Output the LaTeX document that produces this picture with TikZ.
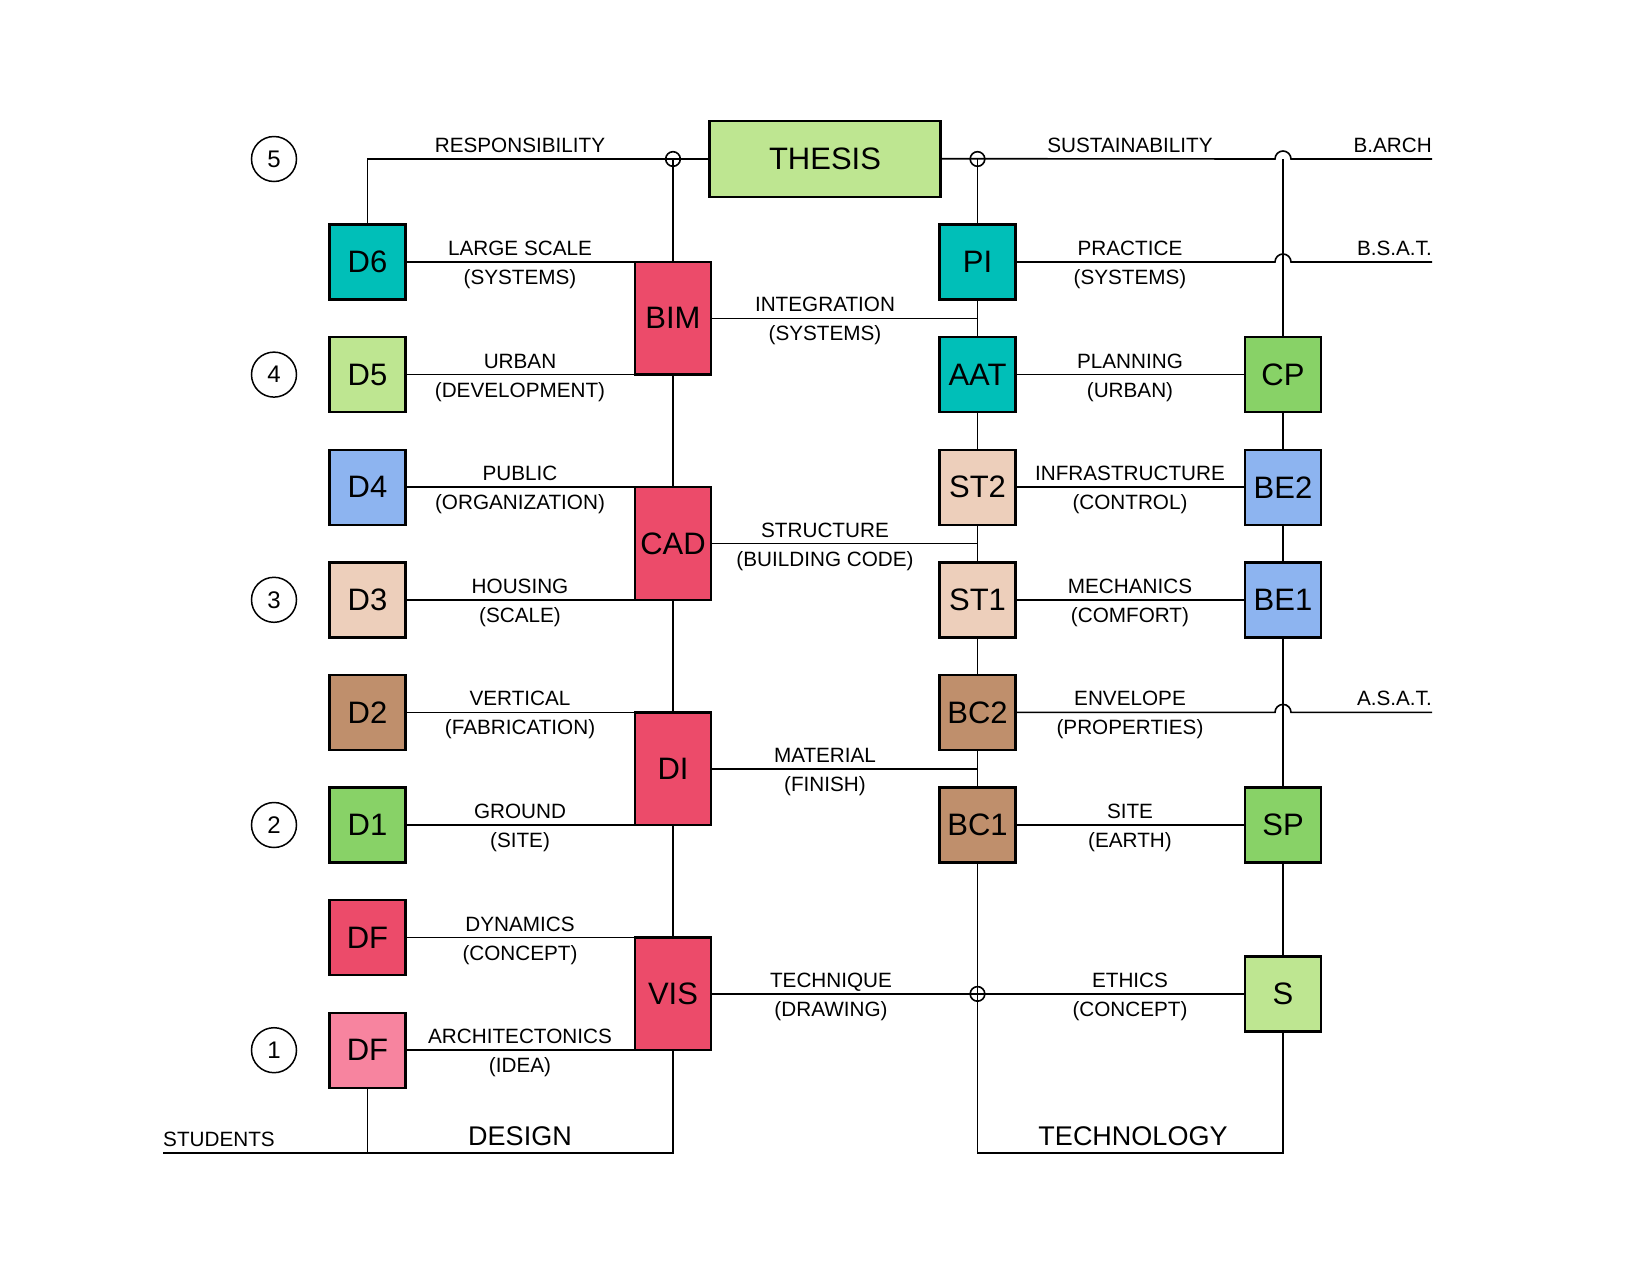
\documentclass[tikz,border=0pt]{standalone}
\usepackage{fontspec}
\setmainfont{Liberation Sans}
\definecolor{teal1}{HTML}{00BFB8}
\definecolor{lgreen}{HTML}{BEE691}
\definecolor{mgreen}{HTML}{88D267}
\definecolor{blue1}{HTML}{8DB4F0}
\definecolor{beige1}{HTML}{EDCFBB}
\definecolor{brown1}{HTML}{BF8F6C}
\definecolor{red1}{HTML}{EC4B6A}
\definecolor{pink1}{HTML}{F7849F}
\newcommand{\twolabel}[5]{%
  \node[lbl,anchor=base] (#1a) at (#2,#3-6.5) {#4};
  \node[lbl,anchor=base] (#1b) at (#2,#3+22.5) {#5};}
\begin{document}
\begin{tikzpicture}[x=1pt,y=-1pt,
  box/.style={draw=black, line width=2.4pt, minimum width=76pt, minimum height=75pt, inner sep=0pt, font=\fontsize{31}{31}\selectfont},
  tall/.style={box, minimum height=112.6pt},
  lbl/.style={inner sep=0pt, font=\fontsize{20.7}{24}\selectfont},
  big/.style={inner sep=0pt, font=\fontsize{27}{30}\selectfont},
  numc/.style={circle, draw, line width=1.5pt, minimum size=45pt, inner sep=0pt, font=\fontsize{24}{24}\selectfont},
  ln/.style={line width=1.6pt},
  thk/.style={line width=2.4pt}]
\useasboundingbox (0,0) rectangle (1650,1275);
% left column
\node[box,fill=teal1] (D6) at (367.5,262) {D6};
\node[box,fill=lgreen] (D5) at (367.5,374.6) {D5};
\node[box,fill=blue1] (D4) at (367.5,487.2) {D4};
\node[box,fill=beige1] (D3) at (367.5,599.8) {D3};
\node[box,fill=brown1] (D2) at (367.5,712.4) {D2};
\node[box,fill=mgreen] (D1) at (367.5,825) {D1};
\node[box,fill=red1] (DFa) at (367.5,937.6) {DF};
\node[box,fill=pink1] (DFb) at (367.5,1050.2) {DF};
% red column
\node[tall,fill=red1] (BIM) at (673,318.3) {BIM};
\node[tall,fill=red1] (CAD) at (673,543.5) {CAD};
\node[tall,fill=red1] (DI) at (673,768.7) {DI};
\node[tall,fill=red1] (VIS) at (673,993.9) {VIS};
\node[box,fill=lgreen,minimum width=231pt,minimum height=76pt] (TH) at (825,158.7) {THESIS};
% right column 1
\node[box,fill=teal1] (PI) at (977.5,262) {PI};
\node[box,fill=teal1] (AAT) at (977.5,374.6) {AAT};
\node[box,fill=beige1] (ST2) at (977.5,487.2) {ST2};
\node[box,fill=beige1] (ST1) at (977.5,599.8) {ST1};
\node[box,fill=brown1] (BC2) at (977.5,712.4) {BC2};
\node[box,fill=brown1] (BC1) at (977.5,825) {BC1};
% right column 2
\node[box,fill=mgreen] (CP) at (1283,374.6) {CP};
\node[box,fill=blue1] (BE2) at (1283,487.2) {BE2};
\node[box,fill=blue1] (BE1) at (1283,599.8) {BE1};
\node[box,fill=mgreen] (SP) at (1283,825) {SP};
\node[box,fill=lgreen] (S) at (1283,993.9) {S};
% number circles
\node[numc] (n5) at (274,159) {5};
\node[numc] (n4) at (274,374.6) {4};
\node[numc] (n3) at (274,599.8) {3};
\node[numc] (n2) at (274,825) {2};
\node[numc] (n1) at (274,1050.2) {1};
% coordinates
\coordinate (jL) at (673,159);
\coordinate (jR) at (977.5,159);
\coordinate (jB) at (977.5,993.9);
\coordinate (vtop) at (1283,159);
\coordinate (eA) at (1432,159);
\coordinate (eB) at (1432,262);
\coordinate (eC) at (1432,712.4);
\coordinate (bl) at (163,1153);
\coordinate (bDF) at (367.5,1153);
\coordinate (bV) at (673,1153);
\coordinate (bT) at (977.5,1153);
\coordinate (bS) at (1283,1153);
% top line
\draw[ln] (D6.north) |- (TH.west);
\draw[ln] (BIM.north) -- (jL);
\draw[ln] (jL) circle[radius=7.3];
\draw[ln] (TH.east) -- (1275,159) arc[start angle=180,end angle=360,radius=8] -- (eA);
\draw[ln] (jR) -- (PI.north);
\draw[ln] (jR) circle[radius=7.3];
\draw[ln] (vtop) -- (CP.north);
% left rows
\draw[ln] (D6.east) -- (D6.east -| BIM.west);
\draw[ln] (D5.east) -- (D5.east -| BIM.west);
\draw[ln] (D4.east) -- (D4.east -| CAD.west);
\draw[ln] (D3.east) -- (D3.east -| CAD.west);
\draw[ln] (D2.east) -- (D2.east -| DI.west);
\draw[ln] (D1.east) -- (D1.east -| DI.west);
\draw[ln] (DFa.east) -- (DFa.east -| VIS.west);
\draw[ln] (DFb.east) -- (DFb.east -| VIS.west);
% red column verticals
\draw[thk] (BIM.south) -- (CAD.north);
\draw[thk] (CAD.south) -- (DI.north);
\draw[thk] (DI.south) -- (VIS.north);
\draw[ln] (VIS.south) -- (bV) -- (bl);
\draw[ln] (DFb.south) -- (bDF);
% middle links
\draw[ln] (BIM.east) -- (BIM.east -| PI.south);
\draw[ln] (CAD.east) -- (CAD.east -| PI.south);
\draw[thk] (DI.east) -- (DI.east -| PI.south);
\draw[ln] (VIS.east) -- (S.west);
\draw[ln] (jB) circle[radius=7.3];
% column 1 verticals
\draw[ln] (PI.south) -- (AAT.north);
\draw[ln] (AAT.south) -- (ST2.north);
\draw[ln] (ST2.south) -- (ST1.north);
\draw[ln] (ST1.south) -- (BC2.north);
\draw[ln] (BC2.south) -- (BC1.north);
\draw[ln] (BC1.south) -- (bT) -- (bS) -- (S.south);
% column 2 verticals
\draw[thk] (CP.south) -- (BE2.north);
\draw[thk] (BE2.south) -- (BE1.north);
\draw[ln] (BE1.south) -- (SP.north);
\draw[ln] (SP.south) -- (S.north);
% right rows
\draw[ln] (PI.east) -- (1275,262) arc[start angle=180,end angle=360,radius=8] -- (eB);
\draw[ln] (AAT.east) -- (CP.west);
\draw[ln] (ST2.east) -- (BE2.west);
\draw[ln] (ST1.east) -- (BE1.west);
\draw[ln] (BC2.east) -- (1275,712.4) arc[start angle=180,end angle=360,radius=8] -- (eC);
\draw[thk] (BC1.east) -- (SP.west);
% labels left
\twolabel{L6}{520}{262}{LARGE SCALE}{(SYSTEMS)}
\twolabel{L5}{520}{374.6}{URBAN}{(DEVELOPMENT)}
\twolabel{L4}{520}{487.2}{PUBLIC}{(ORGANIZATION)}
\twolabel{L3}{520}{599.8}{HOUSING}{(SCALE)}
\twolabel{L2}{520}{712.4}{VERTICAL}{(FABRICATION)}
\twolabel{L1}{520}{825}{GROUND}{(SITE)}
\twolabel{LFa}{520}{937.6}{DYNAMICS}{(CONCEPT)}
\twolabel{LFb}{520}{1050.2}{ARCHITECTONICS}{(IDEA)}
% labels middle
\twolabel{M1}{825}{318.3}{INTEGRATION}{(SYSTEMS)}
\twolabel{M2}{825}{543.5}{STRUCTURE}{(BUILDING CODE)}
\twolabel{M3}{825}{768.7}{MATERIAL}{(FINISH)}
\twolabel{M4}{831}{993.9}{TECHNIQUE}{(DRAWING)}
% labels right
\twolabel{R1}{1130}{262}{PRACTICE}{(SYSTEMS)}
\twolabel{R2}{1130}{374.6}{PLANNING}{(URBAN)}
\twolabel{R3}{1130}{487.2}{INFRASTRUCTURE}{(CONTROL)}
\twolabel{R4}{1130}{599.8}{MECHANICS}{(COMFORT)}
\twolabel{R5}{1130}{712.4}{ENVELOPE}{(PROPERTIES)}
\twolabel{R6}{1130}{825}{SITE}{(EARTH)}
\twolabel{R7}{1130}{993.9}{ETHICS}{(CONCEPT)}
% top & side labels
\node[lbl,anchor=base] (resp) at (520,152.5) {RESPONSIBILITY};
\node[lbl,anchor=base] (sust) at (1130,152.5) {SUSTAINABILITY};
\node[lbl,anchor=base east] (barch) at (1432,152.5) {B.ARCH};
\node[lbl,anchor=base east] (bsat) at (1432,255.5) {B.S.A.T.};
\node[lbl,anchor=base east] (asat) at (1432,705.9) {A.S.A.T.};
\node[lbl,anchor=base west] (stud) at (163,1146) {STUDENTS};
\node[big,anchor=base] (design) at (520,1145) {DESIGN};
\node[big,anchor=base] (tech) at (1133,1145) {TECHNOLOGY};
\end{tikzpicture}
\end{document}
